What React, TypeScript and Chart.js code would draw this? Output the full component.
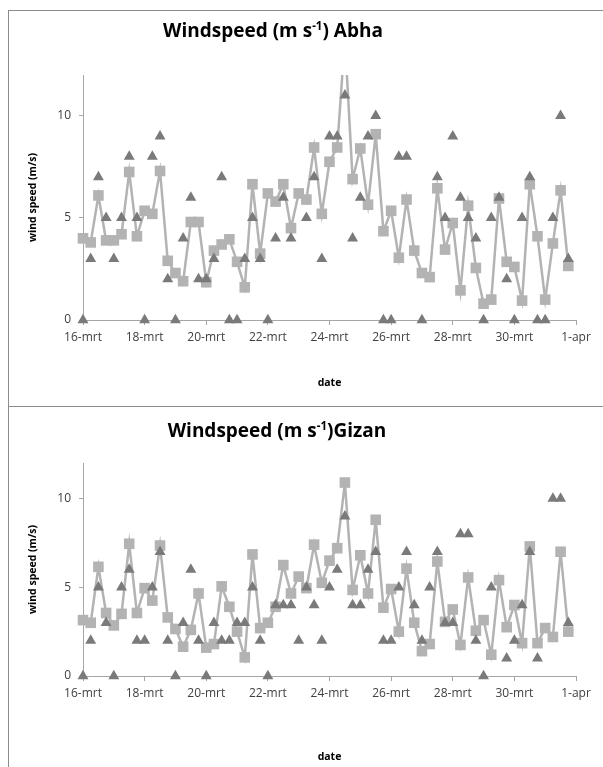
import React, { useEffect, useRef } from "react";
import { Chart, registerables } from "chart.js";

Chart.register(...registerables);

// x axis: days since 16-mrt, data every 6 hours
const tickLabels = ["16-mrt", "18-mrt", "20-mrt", "22-mrt", "24-mrt", "26-mrt", "28-mrt", "30-mrt", "1-apr"];
const stepDays = 0.25;

// Abha
const abhaSquares = [
  4.0, 3.8, 6.1, 3.9, 3.9, 4.2, 7.25, 4.1, 5.35, 5.2, 7.3, 2.9, 2.3, 1.9, 4.8, 4.8,
  1.85, 3.4, 3.7, 3.95, 2.85, 1.6, 6.65, 3.25, 6.2, 5.8, 6.65, 4.5, 6.2, 5.9, 8.45, 5.2,
  7.75, 8.45, 13.8, 6.9, 8.4, 5.65, 9.1, 4.35, 5.35, 3.05, 5.9, 3.4, 2.3, 2.1, 6.45, 3.45,
  4.75, 1.45, 5.6, 2.55, 0.8, 1.0, 5.95, 2.85, 2.6, 0.95, 6.65, 4.1, 1.0, 3.75, 6.35, 2.65,
];
const abhaTriangles = [
  0, 3, 7, 5, 3, 5, 8, 5, 0, 8, 9, 2, 0, 4, 6, 2,
  2, 3, 7, 0, 0, 3, 5, 3, 0, 4, 6, 4, null, 5, 7, 3,
  9, 9, 11, 4, 6, 9, 10, 0, 0, 8, 8, null, 0, null, 7, 5,
  9, 6, 5, 4, 0, 5, 6, 2, 0, 5, 7, 0, 0, 5, 10, 3,
];

// Gizan
const gizanSquares = [
  3.15, 3.0, 6.15, 3.55, 2.85, 3.5, 7.45, 3.55, 4.95, 4.25, 7.35, 3.3, 2.65, 1.65, 2.6, 4.65,
  1.6, 1.8, 5.05, 3.9, 2.5, 1.05, 6.85, 2.7, 3.0, 3.9, 6.25, 4.65, 5.6, 4.95, 7.4, 5.25,
  6.5, 7.2, 10.9, 4.85, 6.8, 4.65, 8.8, 3.85, 4.9, 2.5, 6.05, 3.0, 1.4, 1.8, 6.45, 3.05,
  3.75, 1.75, 5.55, 2.55, 3.15, 1.2, 5.4, 2.75, 4.0, 1.85, 7.3, 1.85, 2.7, 2.2, 7.0, 2.5,
];
const gizanTriangles = [
  0, 2, 5, 3, 0, 5, 6, 2, 2, 5, 7, 2, 0, 3, 6, 2,
  0, 3, 2, 2, 3, 3, 5, 2, 0, 4, 4, 4, 2, 5, 4, 2,
  5, 6, 9, 4, 4, 6, 7, 2, 2, 5, 7, 4, 2, 5, 7, 3,
  3, 8, 8, 2, 0, 5, null, 1, 2, 4, 7, 1, null, 10, 10, 3,
];

const FONT = "'Open Sans', 'DejaVu Sans', sans-serif";
const AXIS_COLOR = "#a6a6a6";
const SQUARE_COLOR = "#b3b3b3";
const TRIANGLE_COLOR = "#7a7a7a";
const CANVAS_W = 594;

const toPoints = (vals: (number | null)[]) => vals.map((v, i) => ({ x: i * stepDays, y: v }));

type PanelProps = {
  squares: number[];
  triangles: (number | null)[];
  height: number;
  chartTop: number;
  chartBottom: number;
  datePad: number;
};

function Panel({ squares, triangles, height, chartTop, chartBottom, datePad }: PanelProps) {
  const ref = useRef<HTMLCanvasElement | null>(null);
  useEffect(() => {
    if (!ref.current) return;
    const chart = new Chart(ref.current, {
      type: "line",
      data: {
        datasets: [
          {
            label: "triangles",
            data: toPoints(triangles) as any,
            showLine: false,
            pointStyle: "triangle",
            pointRadius: 6.3,
            pointBackgroundColor: TRIANGLE_COLOR,
            pointBorderColor: TRIANGLE_COLOR,
            pointBorderWidth: 0,
            clip: false as any,
          },
          {
            label: "squares",
            data: toPoints(squares) as any,
            borderColor: SQUARE_COLOR,
            borderWidth: 2.5,
            tension: 0,
            pointStyle: "rect",
            pointRadius: 7.5,
            pointBackgroundColor: SQUARE_COLOR,
            pointBorderColor: SQUARE_COLOR,
            pointBorderWidth: 0,
            clip: { left: 8, right: 8, top: 0, bottom: 8 } as any,
          },
        ],
      },
      options: {
        animation: false,
        responsive: false,
        maintainAspectRatio: false,
        events: [],
        layout: { padding: { top: chartTop, right: 27, left: 0, bottom: 0 } },
        plugins: {
          legend: { display: false },
          tooltip: { enabled: false },
          title: { display: false },
        },
        scales: {
          x: {
            type: "linear",
            min: 0,
            max: 16,
            afterFit: (s: any) => {
              s.height = height - chartBottom;
            },
            ticks: {
              stepSize: 2,
              autoSkip: false,
              maxRotation: 0,
              padding: 5,
              color: "#404040",
              font: { family: FONT, size: 12 },
              callback: (v: any) => tickLabels[Math.round(Number(v) / 2)] ?? "",
            },
            grid: { display: true, drawOnChartArea: false, drawTicks: true, tickLength: 5, color: AXIS_COLOR },
            border: { display: true, color: AXIS_COLOR, width: 1 },
            title: {
              display: true,
              text: "date",
              color: "#000",
              font: { family: FONT, size: 10.5, weight: "bold" },
              padding: { top: 0, bottom: datePad },
            },
          },
          y: {
            min: 0,
            max: 12,
            afterFit: (s: any) => {
              s.width = 74;
            },
            ticks: {
              stepSize: 5,
              includeBounds: false,
              padding: 8,
              color: "#404040",
              font: { family: FONT, size: 12 },
            },
            grid: { display: true, drawOnChartArea: false, drawTicks: true, tickLength: 4, color: AXIS_COLOR },
            border: { display: true, color: AXIS_COLOR, width: 1 },
            title: {
              display: true,
              text: "wind speed (m/s)",
              color: "#000",
              font: { family: FONT, size: 10.5, weight: "bold" },
              padding: { top: 18, bottom: 0 },
            },
          },
        },
      } as any,
    });
    return () => chart.destroy();
  }, [squares, triangles, height, chartTop, chartBottom, datePad]);
  return (
    <canvas
      ref={ref}
      width={CANVAS_W}
      height={height}
      style={{ position: "absolute", left: 0, top: 0, width: CANVAS_W, height, display: "block" }}
    />
  );
}

function Title({ name, cx, top, gap }: { name: string; cx: number; top: number; gap: string }) {
  return (
    <div
      style={{
        position: "absolute",
        left: cx - 200,
        width: 400,
        top,
        textAlign: "center",
        fontFamily: FONT,
        fontWeight: "bold",
        fontSize: 19,
        lineHeight: "26px",
        color: "#000",
        whiteSpace: "nowrap",
      }}
    >
      Windspeed (m s<span style={{ fontSize: 11.5, position: "relative", top: -7 }}>-1</span>){gap}
      {name}
    </div>
  );
}

export default function App() {
  const border = "1px solid #8c8c8c";
  return (
    <div
      style={{
        position: "absolute",
        left: 0,
        top: 0,
        width: 603,
        height: 767,
        overflow: "hidden",
        background: "#fff",
      }}
    >
      <div
        style={{
          position: "absolute",
          left: 8,
          top: 10,
          width: 600,
          height: 395,
          borderLeft: border,
          borderTop: border,
          background: "#fff",
        }}
      >
        <Panel squares={abhaSquares} triangles={abhaTriangles} height={395} chartTop={64} chartBottom={309} datePad={16.7} />
      </div>
      <div
        style={{
          position: "absolute",
          left: 8,
          top: 406,
          width: 600,
          height: 400,
          borderLeft: border,
          borderTop: border,
          background: "#fff",
        }}
      >
        <Panel squares={gizanSquares} triangles={gizanTriangles} height={360} chartTop={56} chartBottom={269} datePad={3.7} />
      </div>
      <Title name="Abha" cx={273} top={17} gap=" " />
      <Title name="Gizan" cx={277} top={417} gap="" />
    </div>
  );
}
